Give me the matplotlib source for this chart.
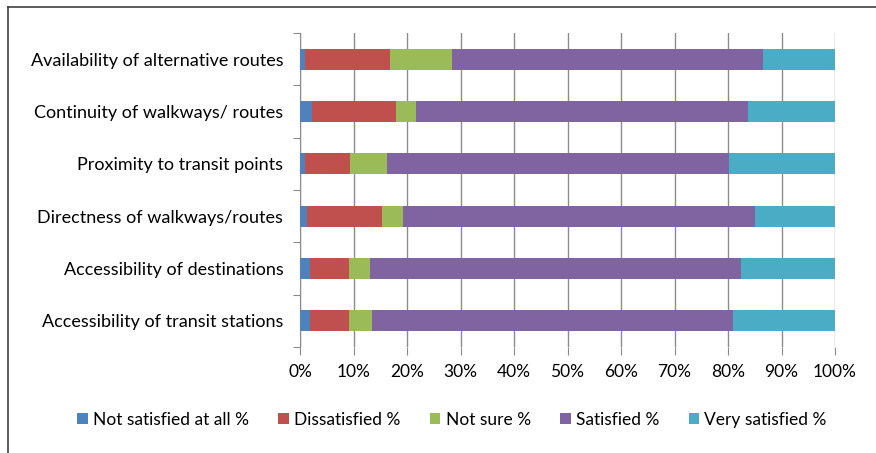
import matplotlib.pyplot as plt
from matplotlib.lines import Line2D
import numpy as np

plt.rcParams['font.family'] = ['Lato', 'DejaVu Sans']

categories = ['Accessibility of transit stations',
              'Accessibility of destinations',
              'Directness of walkways/routes',
              'Proximity to transit points',
              'Continuity of walkways/ routes',
              'Availability of alternative routes']
series_names = ['Not satisfied at all %', 'Dissatisfied %', 'Not sure %',
                'Satisfied %', 'Very satisfied %']
not_satisfied = [1.9, 1.9, 1.4, 1.0, 2.3, 1.0]
dissatisfied = [7.3, 7.3, 13.9, 8.4, 15.7, 15.9]
not_sure = [4.3, 3.8, 4.0, 6.8, 3.7, 11.6]
satisfied = [67.5, 69.4, 65.8, 63.9, 62.0, 58.1]
very_satisfied = [19.0, 17.6, 14.9, 19.9, 16.3, 13.4]
colors = ['#4F81BD', '#C0504D', '#9BBB59', '#8064A2', '#4BACC6']

fig = plt.figure(figsize=(8.76, 4.53), dpi=100)
ax = fig.add_axes([300/876, 1-347/453, 535/876, 314/453])

y = np.arange(len(categories))
left = np.zeros(len(categories))
for vals, name, c in zip([not_satisfied, dissatisfied, not_sure, satisfied, very_satisfied],
                         series_names, colors):
    ax.barh(y, vals, left=left, height=0.4, color=c, label=name, zorder=3)
    left += np.array(vals)

ax.set_xlim(0, 100)
ax.set_ylim(-0.5, len(categories) - 0.5)
ax.set_xticks(np.arange(0, 101, 10))
ax.set_xticklabels(['%d%%' % v for v in range(0, 101, 10)], fontsize=12.5)
ax.xaxis.grid(True, color='#8c8c8c', lw=1, zorder=0)
ax.tick_params(axis='x', length=6, color='#8c8c8c', pad=6)

ax.set_yticks(np.arange(-0.5, len(categories), 1.0))
ax.set_yticklabels([])
ax.set_yticks(y, minor=True)
ax.set_yticklabels(categories, minor=True, fontsize=13)
ax.tick_params(axis='y', which='major', length=5, color='#8c8c8c')
ax.tick_params(axis='y', which='minor', length=0, pad=12)

for s in ['top', 'right', 'bottom']:
    ax.spines[s].set_visible(False)
ax.spines['left'].set_color('#8c8c8c')

fig.legend(loc='center', bbox_to_anchor=(452/876, 1-420/453), ncol=5, frameon=False,
           fontsize=12.5, handlelength=0.6, handleheight=0.6, handletextpad=0.3,
           columnspacing=1.7)

# chart area border (top and left visible)
fig.add_artist(Line2D([8/876, 8/876], [0, 1-7/453], color='#404040', lw=1.2))
fig.add_artist(Line2D([8/876, 1], [1-7/453, 1-7/453], color='#404040', lw=1.2))

fig.savefig('out.png', dpi=100)
